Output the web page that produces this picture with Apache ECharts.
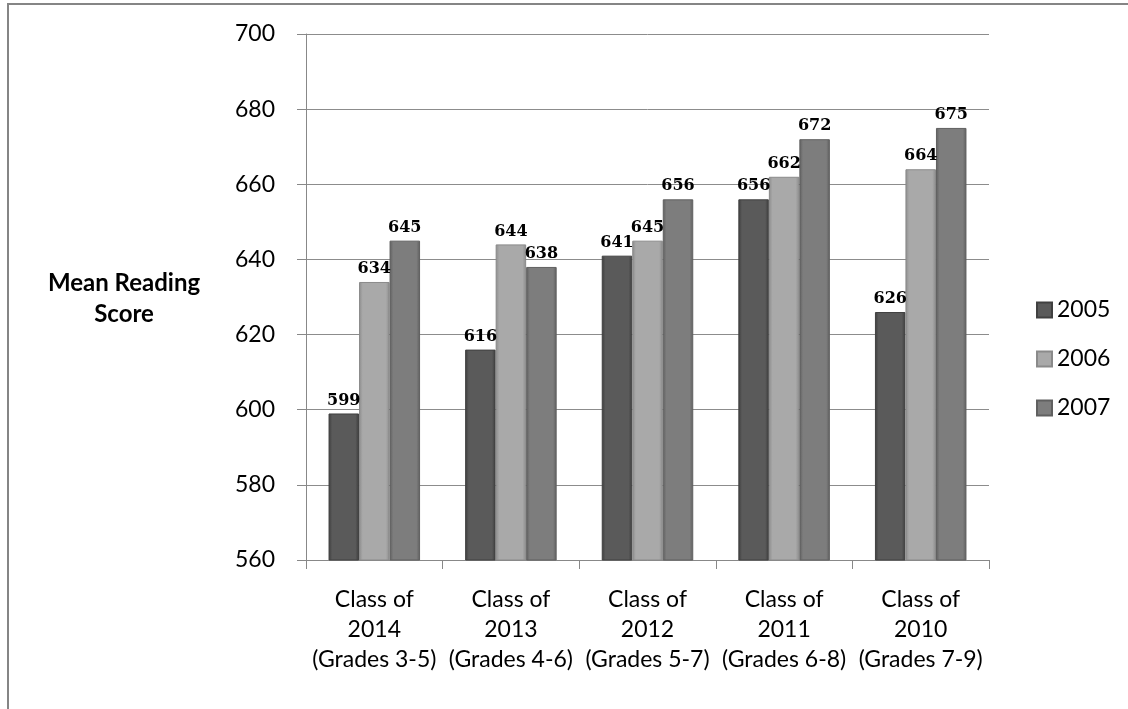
<!DOCTYPE html>
<html>
<head>
<meta charset="utf-8">
<script src="https://cdn.jsdelivr.net/npm/echarts@6/dist/echarts.min.js"></script>
<style>
html,body{margin:0;padding:0;background:#fff;}
#chart{width:1128px;height:709px;}
</style>
</head>
<body>
<div id="chart"></div>
<script>
const categories = [
  "Class of\n2014\n(Grades 3-5)",
  "Class of\n2013\n(Grades 4-6)",
  "Class of\n2012\n(Grades 5-7)",
  "Class of\n2011\n(Grades 6-8)",
  "Class of\n2010\n(Grades 7-9)"
];
const seriesNames = ["2005", "2006", "2007"];
const values2005 = [599, 616, 641, 656, 626];
const values2006 = [634, 644, 645, 662, 664];
const values2007 = [645, 638, 656, 672, 675];
const yTicks = { min: 560, max: 700, interval: 20 };

function grad(edge, mid) {
  return new echarts.graphic.LinearGradient(0, 0, 1, 0, [
    { offset: 0, color: edge },
    { offset: 0.12, color: mid },
    { offset: 0.88, color: mid },
    { offset: 1, color: edge }
  ]);
}
const styles = [
  { edge: '#3c3c3c', mid: '#5a5a5a', border: '#404040' },
  { edge: '#8c8c8c', mid: '#a9a9a9', border: '#8a8a8a' },
  { edge: '#5e5e5e', mid: '#7d7d7d', border: '#606060' }
];
const allValues = [values2005, values2006, values2007];

const chart = echarts.init(document.getElementById('chart'));
chart.setOption({
  animation: false,
  backgroundColor: '#fff',
  graphic: [{
    type: 'rect',
    shape: { x: 8, y: 4, width: 1300, height: 900 },
    style: { fill: 'none', stroke: '#858585', lineWidth: 2 },
    silent: true
  }, {
    type: 'text',
    x: 124, y: 268,
    style: {
      text: 'Mean Reading\nScore',
      font: 'bold 24px Lato',
      fill: '#000',
      align: 'center',
      verticalAlign: 'top',
      lineHeight: 31
    },
    silent: true
  }],
  legend: {
    orient: 'vertical',
    left: 1031,
    top: 293,
    itemWidth: 15,
    itemHeight: 15,
    itemGap: 25,
    icon: 'rect',
    textStyle: { fontFamily: 'Lato', fontSize: 23, color: '#000', lineHeight: 24 },
    data: seriesNames
  },
  grid: { left: 306, right: 139, top: 34, bottom: 149, containLabel: false },
  xAxis: {
    type: 'category',
    data: categories,
    axisLine: { lineStyle: { color: '#888', width: 1 } },
    axisTick: { show: true, length: 9, lineStyle: { color: '#888' } },
    axisLabel: {
      color: '#000', fontFamily: 'Lato', fontSize: 23, lineHeight: 30,
      margin: 25, interval: 0
    }
  },
  yAxis: {
    type: 'value',
    min: yTicks.min, max: yTicks.max, interval: yTicks.interval,
    axisLine: { show: true, lineStyle: { color: '#888', width: 1 } },
    axisTick: { show: true, length: 9, lineStyle: { color: '#888' } },
    splitLine: { lineStyle: { color: '#8c8c8c', width: 1 } },
    axisLabel: { color: '#000', fontFamily: 'Lato', fontSize: 23, margin: 31 }
  },
  series: seriesNames.map((name, i) => ({
    name: name,
    type: 'bar',
    data: allValues[i],
    barGap: '0%',
    barCategoryGap: '33%',
    itemStyle: {
      color: grad(styles[i].edge, styles[i].mid),
      borderColor: styles[i].border,
      borderWidth: 1
    },
    label: {
      show: true,
      position: 'top',
      distance: 5,
      color: '#000',
      fontFamily: 'DejaVu Serif',
      fontWeight: 'bold',
      fontSize: 16
    }
  }))
});
</script>
</body>
</html>
